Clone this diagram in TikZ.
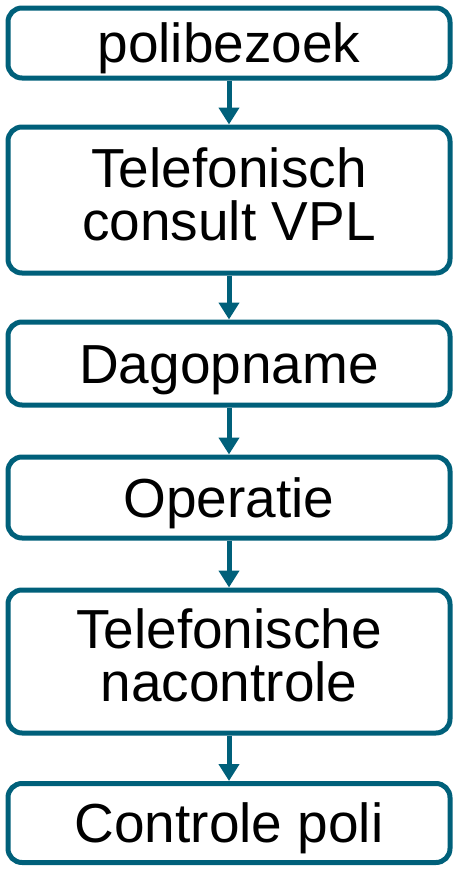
\documentclass[tikz,border=0pt]{standalone}
\usepackage{fontspec}
\setmainfont{Liberation Sans}
\usepackage{xcolor}
\usetikzlibrary{arrows.meta,positioning}
\definecolor{petrol}{HTML}{00607A}
\tikzset{
	stapbox/.style={draw=petrol,line width=5pt,rounded corners=14pt,minimum width=442pt,inner sep=0pt,align=center,font=\fontsize{55}{53}\selectfont,text height=39.5pt,text depth=0pt},
	stapbox2/.style={stapbox,text height=92.5pt,text depth=12pt},
	stappijl/.style={-{Triangle[width=20pt,length=17pt]},petrol,line width=5pt}
}
\begin{document}
\begin{tikzpicture}[x=1pt,y=-1pt]
		\useasboundingbox (0,0) rectangle (454,870);
		\node[stapbox,minimum height=70pt] (polibezoek) at (229,43) {polibezoek};
		\node[stapbox2,minimum height=146pt] (consult) at (229,200) {Telefonisch\\consult VPL};
		\node[stapbox,minimum height=83pt] (dagopname) at (229,363.5) {Dagopname};
		\node[stapbox,minimum height=81pt] (operatie) at (229,497.5) {Operatie};
		\node[stapbox2,minimum height=143pt] (nacontrole) at (229,661.5) {Telefonische\\nacontrole};
		\node[stapbox,minimum height=79pt] (controle) at (229,823) {Controle poli};
		\draw[stappijl] (polibezoek) -- (consult);
		\draw[stappijl] (consult) -- (dagopname);
		\draw[stappijl] (dagopname) -- (operatie);
		\draw[stappijl] (operatie) -- (nacontrole);
		\draw[stappijl] (nacontrole) -- (controle);
	\end{tikzpicture}
\end{document}
